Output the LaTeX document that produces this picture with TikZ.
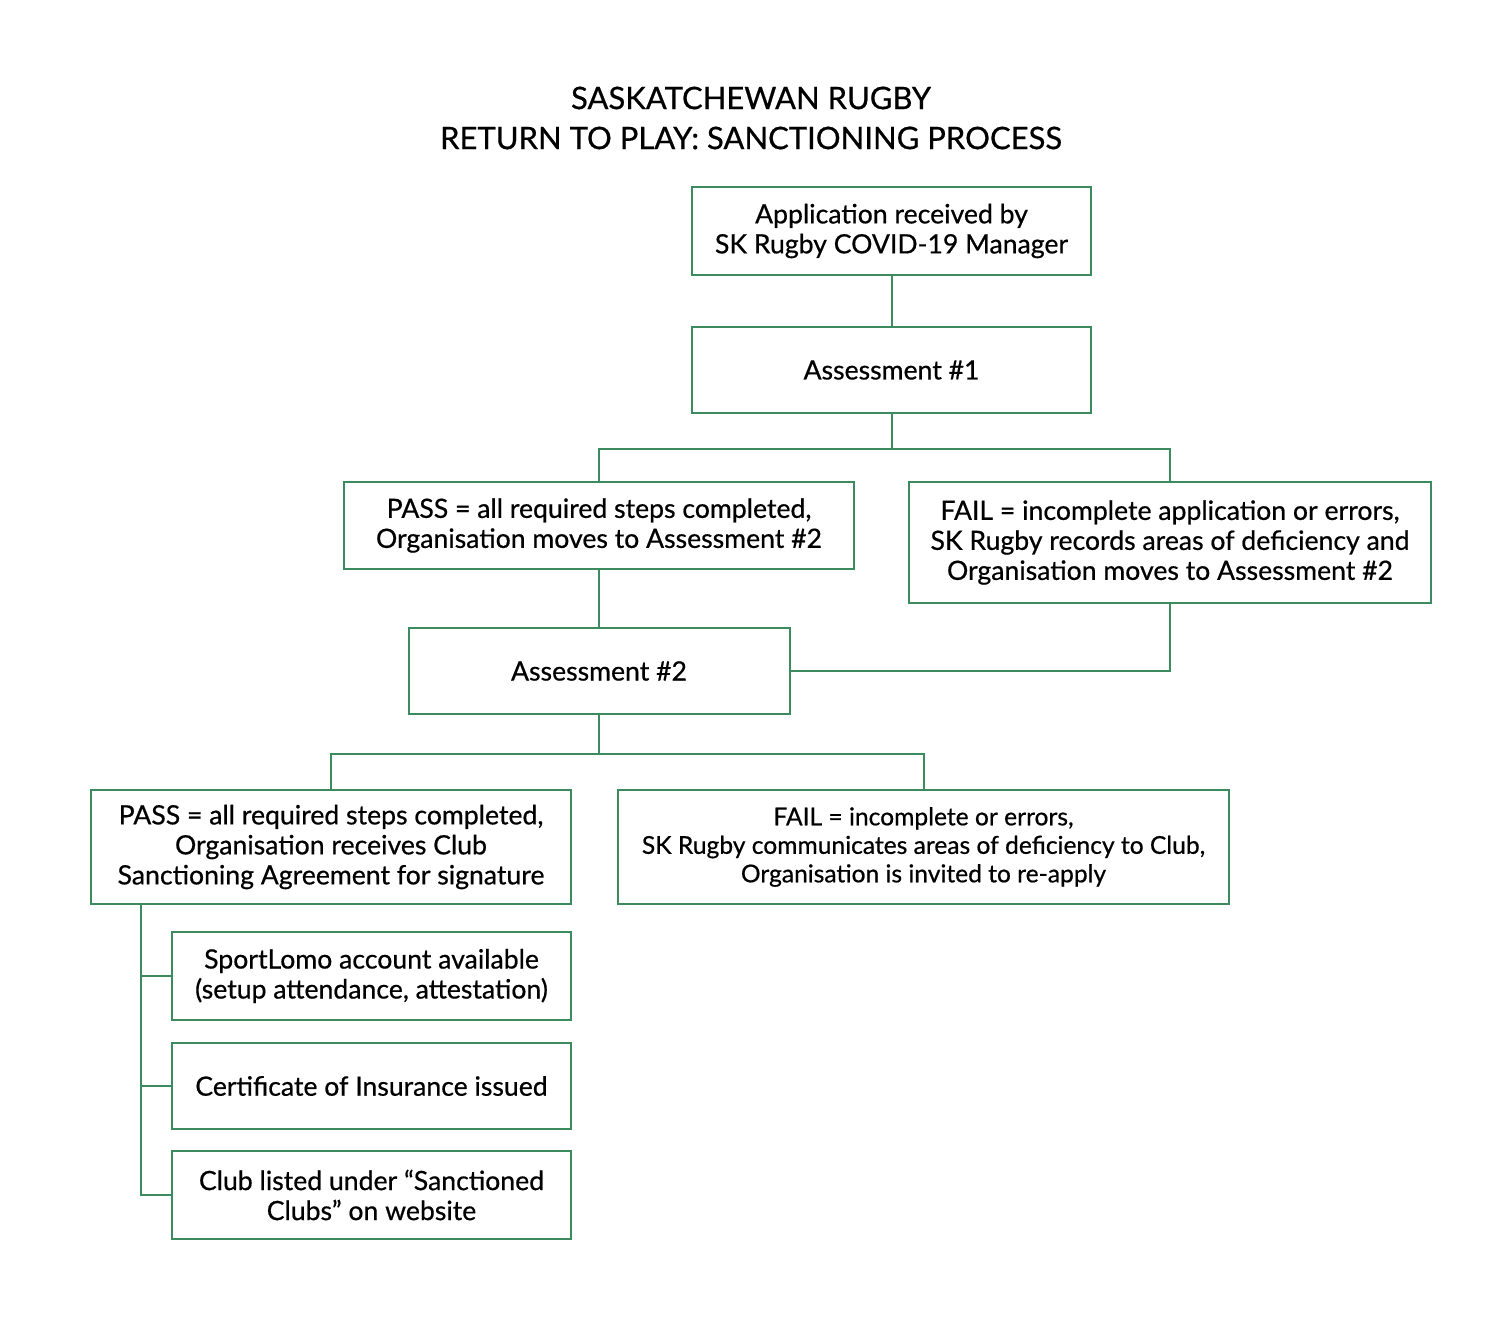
\documentclass[tikz,border=0pt]{standalone}
\usepackage{fontspec}
\setmainfont{Lato}[FakeBold=0.6]
\definecolor{rgreen}{HTML}{3B8B5E}
\tikzset{
  box/.style={rectangle, draw=rgreen, line width=2pt, align=center, inner sep=0pt,
    font=\fontsize{26.6}{30}\selectfont},
  link/.style={draw=rgreen, line width=2pt}
}
\begin{document}
\begin{tikzpicture}[x=1pt, y=-1pt]
    \useasboundingbox[fill=white] (0,0) rectangle (1500,1341);
    % title
    \node[align=center, font=\fontsize{31}{40}\selectfont] (title) at (751,118)
        {SASKATCHEWAN RUGBY\\RETURN TO PLAY: SANCTIONING PROCESS};
    % first assessment
    \node[box, minimum width=399pt, minimum height=88pt] (app) at (891.5,231)
        {Application received by\\SK Rugby COVID-19 Manager};
    \node[box, minimum width=399pt, minimum height=86pt] (ass1) at (891.5,370)
        {Assessment \#1};
    \node[box, minimum width=510pt, minimum height=87pt] (pass1) at (599,525.5)
        {PASS = all required steps completed,\\Organisation moves to Assessment \#2};
    \node[box, minimum width=522pt, minimum height=121pt] (fail1) at (1170,542.5)
        {FAIL = incomplete application or errors,\\SK Rugby records areas of deficiency and\\Organisation moves to Assessment \#2};
    % second assessment
    \node[box, minimum width=381pt, minimum height=86pt] (ass2) at (599,671)
        {Assessment \#2};
    \node[box, minimum width=480pt, minimum height=114pt] (pass2) at (331,847)
        {PASS = all required steps completed,\\Organisation receives Club\\Sanctioning Agreement for signature};
    \node[box, minimum width=611pt, minimum height=114pt, font=\fontsize{24.6}{28.5}\selectfont] (fail2) at (923.5,847)
        {FAIL = incomplete or errors,\\SK Rugby communicates areas of deficiency to Club,\\Organisation is invited to re-apply};
    % outcomes of a pass
    \node[box, minimum width=399pt, minimum height=88pt] (sub1) at (371.5,976)
        {SportLomo account available\\(setup attendance, attestation)};
    \node[box, minimum width=399pt, minimum height=86pt] (sub2) at (371.5,1086)
        {Certificate of Insurance issued};
    \node[box, minimum width=399pt, minimum height=88pt] (sub3) at (371.5,1195)
        {Club listed under “Sanctioned\\Clubs” on website};

    % connectors
    \draw[link] (app) -- (ass1);
    \draw[link] (ass1.south) -- ++(0,35) coordinate (j1);
    \draw[link] (pass1.north) |- (j1) -| (fail1.north);
    \draw[link] (pass1) -- (ass2);
    \draw[link] (fail1.south) |- (ass2.east);
    \draw[link] (ass2.south) -- ++(0,39) coordinate (j2);
    \draw[link] (pass2.north) |- (j2) -| (fail2.north);
    \coordinate (spine) at (141,904);
    \draw[link] (spine) |- (sub3.west);
    \draw[link] (sub1.west) -- (sub1.west -| spine);
    \draw[link] (sub2.west) -- (sub2.west -| spine);
\end{tikzpicture}
\end{document}
